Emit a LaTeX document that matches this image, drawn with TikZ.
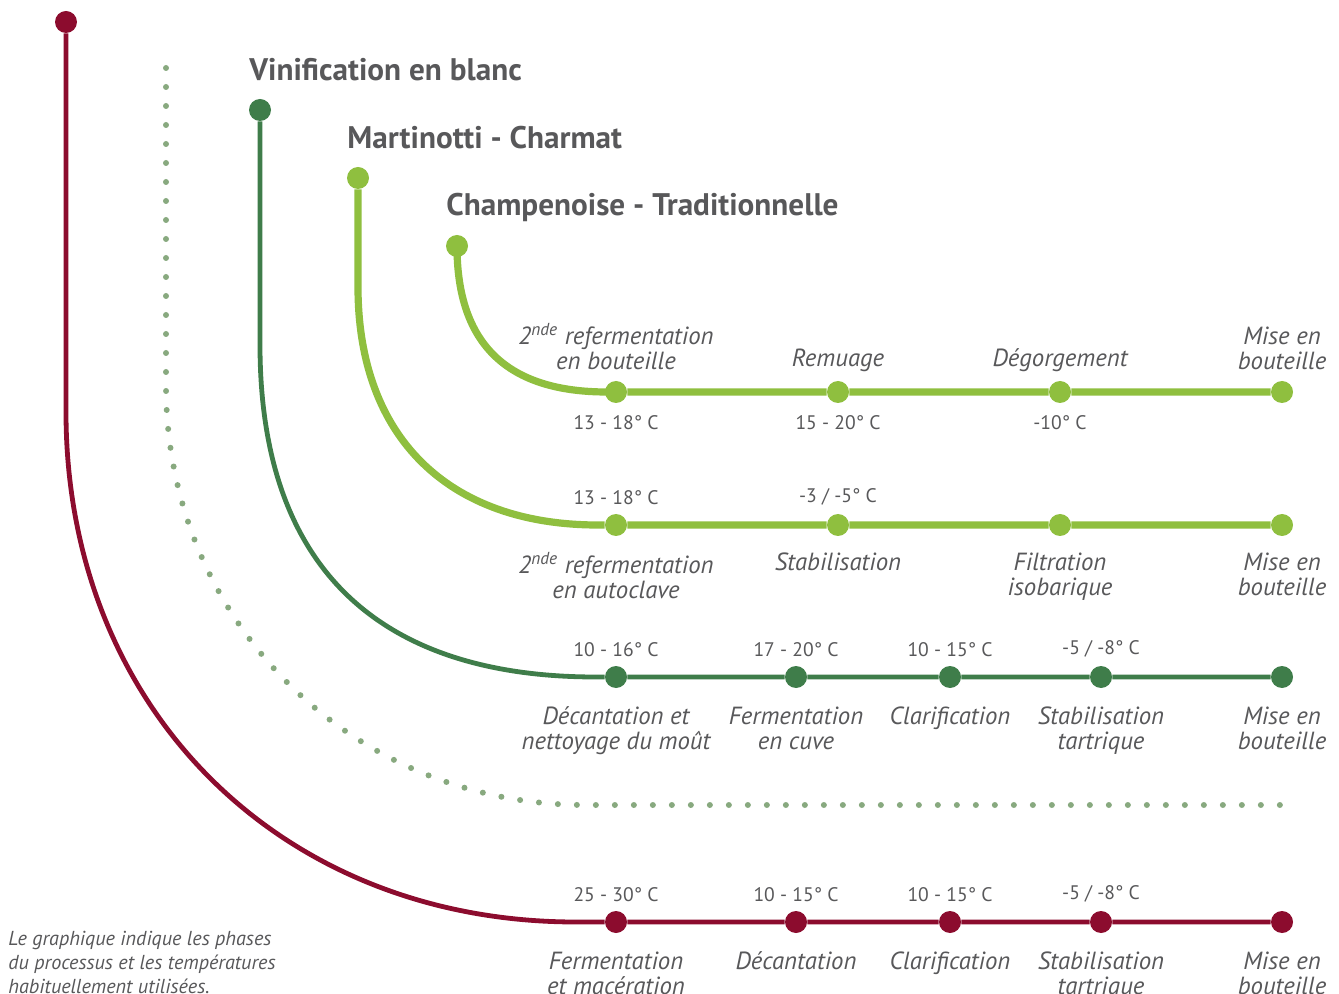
\documentclass[tikz,border=0pt]{standalone}
\usepackage{fontspec}
\setmainfont{PT Sans}
\usetikzlibrary{positioning}
\definecolor{rouge}{HTML}{8C0C2E}
\definecolor{vert}{HTML}{3F7D4A}
\definecolor{anis}{HTML}{8FBF3F}
\definecolor{sauge}{HTML}{88A97F}
\definecolor{texte}{HTML}{58585A}

\begin{document}
\begin{tikzpicture}[x=0.5pt,y=-0.5pt,node distance=5pt,
  dot/.style={circle,inner sep=0pt,minimum size=11pt},
  titre/.style={font=\bfseries\fontsize{15.6}{18}\selectfont,text=texte,anchor=west,inner sep=0pt},
  etape/.style={font=\itshape\fontsize{12.4}{12.6}\selectfont,text=texte,align=center,inner sep=0pt},
  temp/.style={font=\fontsize{9.8}{12}\selectfont,text=texte,inner sep=0pt},
  note/.style={font=\itshape\fontsize{10.1}{11.9}\selectfont,text=texte,align=left,inner sep=0pt}]
\useasboundingbox (0,0) rectangle (1339,994);

% titres
\node[titre] (tvb) at (249,70) {Vinification en blanc};
\node[titre] (tmc) at (347,138) {Martinotti - Charmat};
\node[titre] (tct) at (446,207) {Champenoise - Traditionnelle};

% points de depart
\node[dot,fill=rouge] (rg0) at (66,22) {};
\node[dot,fill=vert] (vb0) at (260,110) {};
\node[dot,fill=anis] (mc0) at (358,178) {};
\node[dot,fill=anis] (ct0) at (457,246) {};

% etapes
\foreach \n/\x in {1/616,2/838,3/1060,4/1282}
  \node[dot,fill=anis] (ct\n) at (\x,392) {};
\foreach \n/\x in {1/616,2/838,3/1060,4/1282}
  \node[dot,fill=anis] (mc\n) at (\x,525) {};
\foreach \n/\x in {1/616,2/796,3/950,4/1101,5/1282}
  \node[dot,fill=vert] (vb\n) at (\x,677) {};
\foreach \n/\x in {1/616,2/796,3/950,4/1101,5/1282}
  \node[dot,fill=rouge] (rg\n) at (\x,922) {};

\coordinate (rgA) at (66,412);
\coordinate (rgB) at (576,922);
\coordinate (ptA) at (166,68);
\coordinate (ptB) at (166,385);
\coordinate (ptC) at (586,805);
\coordinate (ptD) at (1283,805);
\coordinate (vbA) at (260,345);
\coordinate (vbB) at (596,677);
\coordinate (mcA) at (358,287);
\coordinate (mcB) at (598,525);
\coordinate (ctB) at (607,392);

% lignes
\draw[rouge,line width=2.4pt] (rg0) -- (rgA) .. controls +(0,296) and +(-296,0) .. (rgB)
  -- (rg1) -- (rg2) -- (rg3) -- (rg4) -- (rg5);
\draw[sauge,line width=3pt,line cap=round,dash pattern=on 0pt off 9.5pt]
  (ptA) -- (ptB) .. controls +(0,235) and +(-235,0) .. (ptC) -- (ptD);
\draw[vert,line width=2.4pt] (vb0) -- (vbA) .. controls +(0,220) and +(-220,0) .. (vbB)
  -- (vb1) -- (vb2) -- (vb3) -- (vb4) -- (vb5);
\draw[anis,line width=3.6pt] (mc0) -- (mcA) .. controls +(0,150) and +(-150,0) .. (mcB)
  -- (mc1) -- (mc2) -- (mc3) -- (mc4);
\draw[anis,line width=3.6pt] (ct0.center) .. controls +(0,99) and +(-99,0) .. (ctB)
  -- (ct1) -- (ct2) -- (ct3) -- (ct4);

% Champenoise
\node[etape,above=5pt of ct1] {2\textsuperscript{nde} refermentation\\en bouteille};
\node[etape,above=4pt of ct2] {Remuage};
\node[etape,above=4pt of ct3] {Dégorgement};
\node[etape,above=5pt of ct4] {Mise en\\bouteille};
\node[temp,below=6pt of ct1] {13 - 18° C};
\node[temp,below=6pt of ct2] {15 - 20° C};
\node[temp,below=6pt of ct3] {-10° C};

% Martinotti
\node[temp,above=4pt of mc1] {13 - 18° C};
\node[temp,above=4pt of mc2] {-3 / -5° C};
\node[etape,below=8pt of mc1] {2\textsuperscript{nde} refermentation\\en autoclave};
\node[etape,below=8pt of mc2] {Stabilisation};
\node[etape,below=8pt of mc3] {Filtration\\isobarique};
\node[etape,below=8pt of mc4] {Mise en\\bouteille};

% blanc
\node[temp,above=4pt of vb1] {10 - 16° C};
\node[temp,above=4pt of vb2] {17 - 20° C};
\node[temp,above=4pt of vb3] {10 - 15° C};
\node[temp,above=4pt of vb4] {-5 / -8° C};
\node[etape,below=9pt of vb1] {Décantation et\\nettoyage du moût};
\node[etape,below=9pt of vb2] {Fermentation\\en cuve};
\node[etape,below=9pt of vb3] {Clarification};
\node[etape,below=9pt of vb4] {Stabilisation\\tartrique};
\node[etape,below=9pt of vb5] {Mise en\\bouteille};

% rouge
\node[temp,above=4pt of rg1] {25 - 30° C};
\node[temp,above=4pt of rg2] {10 - 15° C};
\node[temp,above=4pt of rg3] {10 - 15° C};
\node[temp,above=4pt of rg4] {-5 / -8° C};
\node[etape,below=9pt of rg1] {Fermentation\\et macération};
\node[etape,below=9pt of rg2] {Décantation};
\node[etape,below=9pt of rg3] {Clarification};
\node[etape,below=9pt of rg4] {Stabilisation\\tartrique};
\node[etape,below=9pt of rg5] {Mise en\\bouteille};

\node[note,anchor=north west] (nt) at (8,931) {Le graphique indique les phases\\du processus et les températures\\habituellement utilisées.};
\end{tikzpicture}
\end{document}
